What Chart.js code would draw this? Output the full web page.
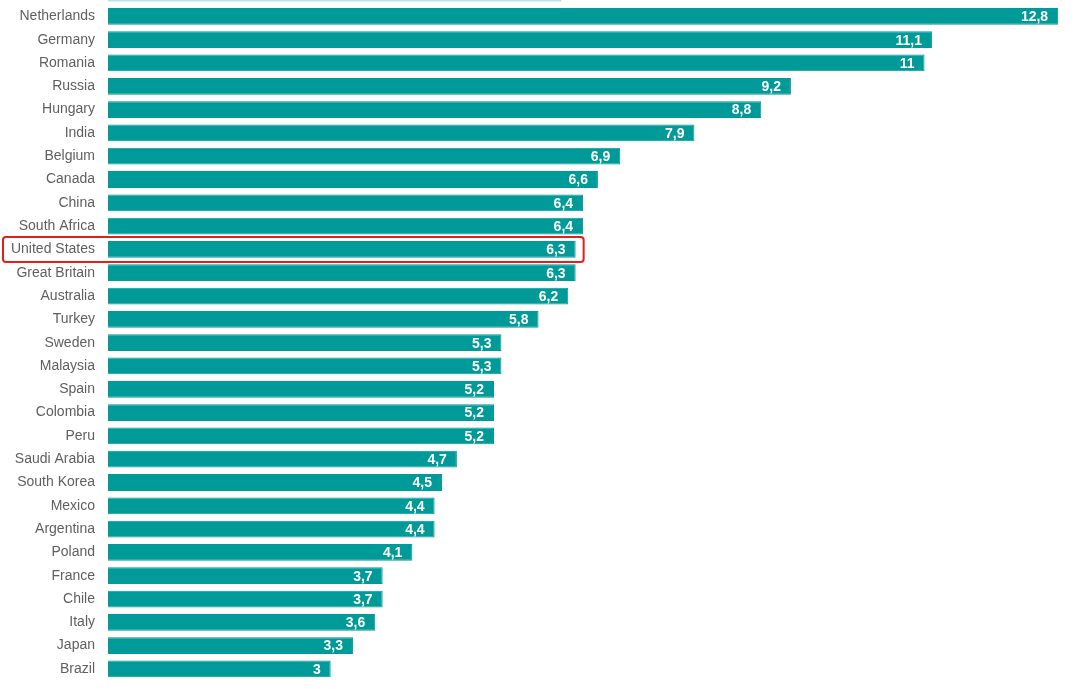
<!DOCTYPE html>
<html>
<head>
<meta charset="utf-8">
<script src="https://cdn.jsdelivr.net/npm/chart.js@4/dist/chart.umd.min.js"></script>
<style>
  html, body { margin: 0; padding: 0; background: #fff; overflow: hidden; }
  #wrap { position: absolute; left: 0; top: -40px; width: 1080px; height: 742px; }
</style>
</head>
<body>
<div id="wrap"><canvas id="chartCanvas"></canvas></div>
<script>
// first row is cut off at the top of the picture
const countries = ['Global average', 'Netherlands', 'Germany', 'Romania', 'Russia', 'Hungary', 'India',
  'Belgium', 'Canada', 'China', 'South Africa', 'United States', 'Great Britain', 'Australia',
  'Turkey', 'Sweden', 'Malaysia', 'Spain', 'Colombia', 'Peru', 'Saudi Arabia', 'South Korea',
  'Mexico', 'Argentina', 'Poland', 'France', 'Chile', 'Italy', 'Japan', 'Brazil'];
const values = [6.1, 12.8, 11.1, 11, 9.2, 8.8, 7.9, 6.9, 6.6, 6.4, 6.4, 6.3, 6.3, 6.2, 5.8, 5.3, 5.3,
  5.2, 5.2, 5.2, 4.7, 4.5, 4.4, 4.4, 4.1, 3.7, 3.7, 3.6, 3.3, 3];
const highlighted = 'United States';

const barColors = countries.map((c, i) => i === 0 ? '#b3e0e0' : '#009b98');
const borderColors = countries.map((c, i) => i === 0 ? '#7ccaca' : '#009b98');

// white value labels inside the bar end (comma decimals)
const valueLabels = {
  id: 'valueLabels',
  afterDatasetsDraw(chart) {
    const ctx = chart.ctx;
    const meta = chart.getDatasetMeta(0);
    ctx.save();
    ctx.font = 'bold 14px "Liberation Sans", Arial, sans-serif';
    ctx.fillStyle = '#ffffff';
    ctx.textAlign = 'right';
    ctx.textBaseline = 'middle';
    meta.data.forEach((bar, i) => {
      if (i === 0) return;
      const txt = String(values[i]).replace('.', ',');
      ctx.fillText(txt, bar.x - 10, bar.y + 1);
    });
    ctx.restore();
  }
};

// red rounded box round the highlighted row
const highlightBox = {
  id: 'highlightBox',
  afterDraw(chart) {
    const idx = countries.indexOf(highlighted);
    const bar = chart.getDatasetMeta(0).data[idx];
    const ctx = chart.ctx;
    const left = 3, right = bar.x + 8;
    const top = bar.y - 12.5, bottom = bar.y + 12.5;
    ctx.save();
    ctx.strokeStyle = '#e3211c';
    ctx.lineWidth = 2;
    ctx.beginPath();
    ctx.roundRect(left, top, right - left, bottom - top, 3);
    ctx.stroke();
    ctx.restore();
  }
};

const ctx = document.getElementById('chartCanvas').getContext('2d');
const chart = new Chart(ctx, {
  type: 'bar',
  data: {
    labels: countries,
    datasets: [{
      data: values,
      backgroundColor: barColors,
      borderColor: borderColors,
      borderWidth: 1,
      categoryPercentage: 1,
      barPercentage: 0.72
    }]
  },
  options: {
    indexAxis: 'y',
    responsive: true,
    maintainAspectRatio: false,
    animation: false,
    layout: { padding: { top: 10, bottom: 10, left: 0, right: 7 } },
    plugins: { legend: { display: false }, tooltip: { enabled: false } },
    scales: {
      x: { display: false, min: 0, max: 13 },
      y: {
        grid: { display: false, drawTicks: false },
        border: { display: false },
        ticks: {
          padding: 13,
          color: '#5f5f5f',
          font: { family: '"Liberation Sans", Arial, sans-serif', size: 14 }
        },
        afterFit(scale) { scale.width = 108; }
      }
    }
  },
  plugins: [valueLabels, highlightBox]
});
</script>
</body>
</html>
